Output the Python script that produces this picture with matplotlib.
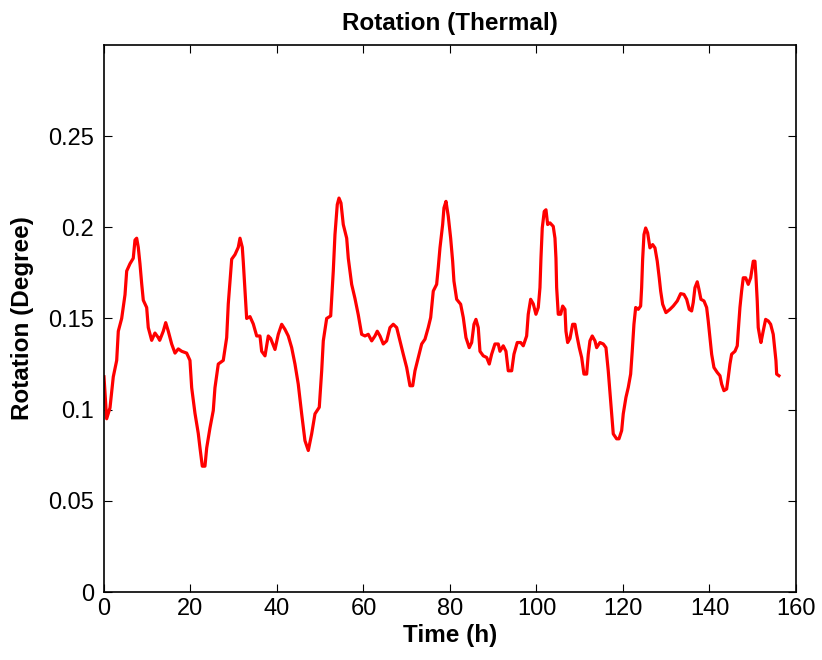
import matplotlib
matplotlib.use("Agg")
import matplotlib.pyplot as plt

plt.rcParams['font.family'] = ['Liberation Sans', 'DejaVu Sans']

# values
time_h = [
    0.0, 0.62, 1.39, 2.15, 2.94, 3.31, 4.09, 4.86, 5.25, 6.01, 6.77, 7.17, 7.56, 7.93,
    8.32, 8.72, 9.09, 9.87, 10.24, 11.03, 11.79, 12.55, 12.88, 13.71, 14.27, 14.87,
    15.65, 16.42, 17.18, 17.97, 19.12, 19.88, 20.28, 21.04, 21.80, 22.20, 22.73, 23.35,
    23.75, 24.51, 25.27, 25.66, 26.43, 27.58, 28.37, 28.74, 29.13, 29.53, 30.29, 31.05,
    31.45, 31.98, 32.21, 32.60, 32.99, 33.76, 34.52, 35.31, 36.07, 36.46, 37.23, 37.99,
    38.54, 39.54, 40.30, 41.09, 41.85, 42.61, 43.40, 44.16, 44.92, 45.71, 46.47, 47.24,
    48.02, 48.79, 49.78, 50.34, 50.71, 51.49, 52.42, 53.02, 53.41, 53.94, 54.34, 54.80,
    55.33, 56.12, 56.49, 57.27, 58.03, 58.80, 59.58, 60.35, 61.11, 61.90, 62.66, 63.19,
    63.82, 64.58, 65.36, 66.13, 66.89, 67.68, 68.44, 69.20, 69.99, 70.75, 71.38, 71.91,
    72.67, 73.46, 74.22, 74.98, 75.54, 76.14, 76.92, 77.29, 77.69, 78.31, 78.61, 79.08,
    79.61, 80.16, 80.62, 80.92, 81.55, 82.47, 83.08, 83.70, 84.46, 85.02, 85.55, 86.01,
    86.54, 86.94, 87.70, 88.49, 89.09, 89.64, 90.40, 91.17, 91.56, 92.32, 92.95, 93.48,
    94.27, 94.80, 95.56, 96.35, 96.95, 97.73, 98.10, 98.66, 99.26, 99.88, 100.42, 100.81,
    101.04, 101.34, 101.80, 102.20, 102.59, 103.12, 103.88, 104.28, 104.51, 104.67,
    105.04, 105.60, 106.06, 106.59, 106.82, 107.21, 107.75, 108.37, 108.90, 109.29,
    109.90, 110.45, 110.98, 111.61, 111.98, 112.37, 112.90, 113.53, 113.92, 114.68,
    115.45, 116.07, 116.60, 116.99, 117.39, 117.76, 118.54, 119.08, 119.70, 120.07,
    120.69, 121.23, 121.78, 122.15, 122.54, 122.94, 123.54, 124.09, 124.32, 124.55,
    124.86, 125.25, 125.71, 126.24, 126.87, 127.40, 127.93, 128.39, 128.72, 129.18,
    129.94, 130.87, 131.63, 132.56, 133.34, 134.10, 134.73, 135.33, 135.88, 136.25,
    136.65, 137.18, 137.57, 138.03, 138.73, 139.35, 139.72, 140.12, 140.51, 141.04,
    141.80, 142.43, 142.82, 143.35, 143.98, 144.35, 144.74, 145.13, 145.90, 146.43,
    146.66, 147.05, 147.44, 147.82, 148.37, 148.97, 149.53, 149.89, 150.13, 150.52,
    150.75, 151.05, 151.28, 151.68, 151.91, 152.44, 152.99, 153.60, 154.15, 154.75,
    155.14, 155.38, 155.54, 156.07,
]
rotation_deg = [
    0.118, 0.095, 0.101, 0.118, 0.127, 0.143, 0.150, 0.163, 0.176, 0.180, 0.183, 0.193,
    0.194, 0.189, 0.180, 0.169, 0.160, 0.156, 0.145, 0.138, 0.142, 0.1395, 0.138, 0.143,
    0.1477, 0.143, 0.136, 0.131, 0.1333, 0.132, 0.131, 0.127, 0.112, 0.098, 0.087, 0.079,
    0.069, 0.069, 0.079, 0.090, 0.0995, 0.112, 0.125, 0.127, 0.1395, 0.158, 0.1705,
    0.1825, 0.185, 0.189, 0.194, 0.189, 0.181, 0.165, 0.150, 0.151, 0.147, 0.1404,
    0.1404, 0.132, 0.1295, 0.1404, 0.139, 0.133, 0.1413, 0.1468, 0.144, 0.1404, 0.134,
    0.125, 0.114, 0.0977, 0.083, 0.0776, 0.0867, 0.0977, 0.1013, 0.1213, 0.1377, 0.150,
    0.1514, 0.176, 0.196, 0.2124, 0.216, 0.2133, 0.2015, 0.194, 0.183, 0.1687, 0.161,
    0.152, 0.1413, 0.1404, 0.1413, 0.1377, 0.1404, 0.143, 0.1404, 0.136, 0.1377, 0.145,
    0.1468, 0.145, 0.1377, 0.1304, 0.1231, 0.1131, 0.1131, 0.1213, 0.1286, 0.136, 0.1386,
    0.145, 0.1505, 0.165, 0.1687, 0.1778, 0.1887, 0.2015, 0.2106, 0.2142, 0.206, 0.194,
    0.1814, 0.1705, 0.1605, 0.1578, 0.1505, 0.1395, 0.134, 0.1368, 0.1468, 0.1495, 0.145,
    0.132, 0.1295, 0.1286, 0.125, 0.1304, 0.136, 0.136, 0.132, 0.135, 0.132, 0.1213,
    0.1213, 0.1304, 0.1368, 0.1368, 0.135, 0.1404, 0.1523, 0.1605, 0.158, 0.1523, 0.156,
    0.1669, 0.183, 0.1996, 0.2087, 0.2096, 0.2015, 0.2024, 0.2005, 0.194, 0.183, 0.1669,
    0.1523, 0.1523, 0.1568, 0.155, 0.143, 0.1368, 0.139, 0.1468, 0.1468, 0.1413, 0.134,
    0.1286, 0.1195, 0.1195, 0.1304, 0.1377, 0.1404, 0.1377, 0.134, 0.1368, 0.136, 0.134,
    0.1213, 0.110, 0.0977, 0.0867, 0.084, 0.084, 0.0885, 0.0977, 0.1067, 0.1122, 0.1195,
    0.1322, 0.1468, 0.156, 0.155, 0.1568, 0.1669, 0.1823, 0.196, 0.1996, 0.1969, 0.1887,
    0.1905, 0.1887, 0.1814, 0.1723, 0.165, 0.1578, 0.1532, 0.155, 0.1568, 0.1596, 0.1636,
    0.1632, 0.1605, 0.155, 0.1541, 0.1587, 0.1669, 0.1701, 0.166, 0.1605, 0.1596, 0.156,
    0.1486, 0.1395, 0.1304, 0.1231, 0.1204, 0.1186, 0.114, 0.1104, 0.1113, 0.1177, 0.125,
    0.1304, 0.132, 0.135, 0.1432, 0.156, 0.165, 0.1723, 0.1723, 0.1687, 0.1723, 0.1778,
    0.1814, 0.1814, 0.1732, 0.1596, 0.145, 0.1395, 0.1368, 0.1432, 0.1495, 0.1486, 0.1468,
    0.1413, 0.1322, 0.1268, 0.1195, 0.1186,
]
x_ticks = [0, 20, 40, 60, 80, 100, 120, 140, 160]
y_ticks = [0, 0.05, 0.1, 0.15, 0.2, 0.25]
y_tick_labels = ['0', '0.05', '0.1', '0.15', '0.2', '0.25']

fig = plt.figure(figsize=(8.22, 6.6), dpi=100)
ax = fig.add_axes([0.1265, 0.103, 0.8418, 0.829])

ax.plot(time_h, rotation_deg, color='red', linewidth=2.3)

ax.set_xlim(0, 160)
ax.set_ylim(0, 0.3)
ax.set_xticks(x_ticks)
ax.set_xticklabels([str(t) for t in x_ticks])
ax.set_yticks(y_ticks)
ax.set_yticklabels(y_tick_labels)
ax.tick_params(direction='in', top=True, right=True, length=6, width=0.8,
               labelsize=17)
ax.tick_params(axis='y', pad=7)
ax.tick_params(axis='x', pad=4)
for s in ax.spines.values():
    s.set_linewidth(1.2)

ax.set_title("Rotation (Thermal)", fontsize=17.5, fontweight='bold', pad=11)
ax.set_xlabel("Time (h)", fontsize=17.5, fontweight='bold', labelpad=3)
ax.set_ylabel("Rotation (Degree)", fontsize=17.5, fontweight='bold', labelpad=10)

fig.savefig("out.png", dpi=100)
